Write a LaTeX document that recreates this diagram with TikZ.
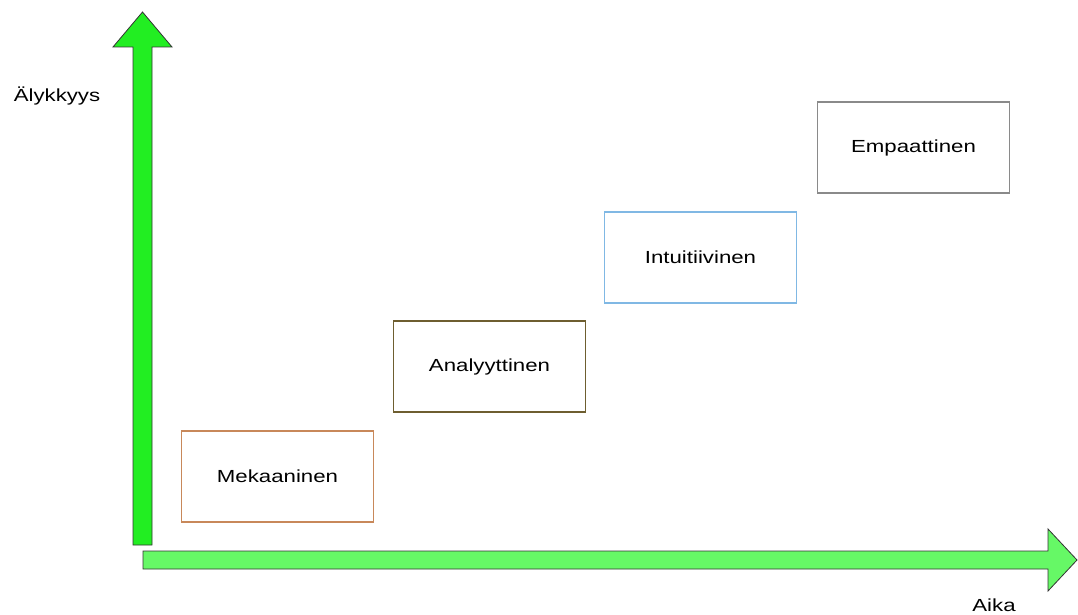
\documentclass[tikz,border=0pt]{standalone}
\usepackage{fontspec}
\setmainfont{Liberation Sans}
\usepackage{graphicx}
\definecolor{vgreen}{HTML}{22EE22}
\definecolor{hgreen}{HTML}{66F866}
\definecolor{cMek}{HTML}{C8885A}
\definecolor{cAna}{HTML}{6E5E30}
\definecolor{cInt}{HTML}{80B8E4}
\definecolor{cEmp}{HTML}{8A8A8A}
\newcommand{\wtxt}[1]{\scalebox{1.27}[1]{\fontsize{17.5}{20}\selectfont #1}}
\tikzset{
  stagebox/.style={draw=#1, line width=1.2pt, minimum width=192pt, minimum height=91pt, inner sep=0pt, fill=white},
  lbl/.style={inner sep=0pt}
}
\begin{document}
\begin{tikzpicture}[x=1pt,y=-1pt]
\useasboundingbox (0,0) rectangle (1078,615);
% vertical arrow
\draw[fill=vgreen, draw=black!80, line width=0.8pt, line join=miter]
  (133,545) -- (133,47) -- (113,47) -- (142.5,12) -- (172,47) -- (152,47) -- (152,545) -- cycle;
% horizontal arrow
\draw[fill=hgreen, draw=black!80, line width=0.8pt, line join=miter]
  (143,551) -- (1048,551) -- (1048,529) -- (1077,560) -- (1048,591) -- (1048,569) -- (143,569) -- cycle;
% labels
\node[lbl] (yl) at (57,96) {\wtxt{Älykkyys}};
\node[lbl] (xl) at (994,605) {\wtxt{Aika}};
% boxes
\node[stagebox=cMek] (mek) at (277.5,476.5) {\wtxt{Mekaaninen}};
\node[stagebox=cAna] (ana) at (489.5,366.5) {\wtxt{Analyyttinen}};
\node[stagebox=cInt] (int) at (700.5,257.5) {\wtxt{Intuitiivinen}};
\node[stagebox=cEmp] (emp) at (913.5,147.5) {\wtxt{Empaattinen}};
\end{tikzpicture}
\end{document}
